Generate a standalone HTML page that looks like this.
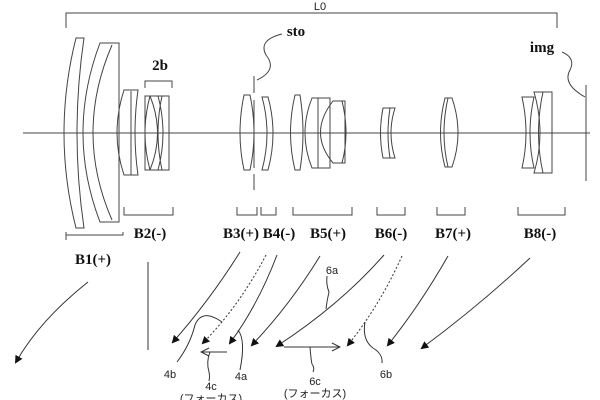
<!DOCTYPE html>
<html><head><meta charset="utf-8"><style>
html,body{margin:0;padding:0;background:#fff;width:600px;height:400px;overflow:hidden}
svg{display:block}
.b{font-family:"Liberation Serif",serif;font-weight:bold;font-size:15px;fill:#111}
.s{font-family:"Liberation Sans","Noto Sans CJK JP",sans-serif;font-size:11px;fill:#222}
</style></head><body>
<svg width="600" height="400" viewBox="0 0 600 400" xmlns="http://www.w3.org/2000/svg">
<defs><marker id="ah" markerWidth="8" markerHeight="8" refX="6" refY="4" orient="auto" markerUnits="userSpaceOnUse"><path d="M0,0 L8,4 L0,8 z" fill="#111"/></marker>
<marker id="oa" markerWidth="10" markerHeight="10" refX="9" refY="5" orient="auto" markerUnits="userSpaceOnUse"><path d="M1,1 L9,5 L1,9" fill="none" stroke="#333" stroke-width="1"/></marker></defs>
<g fill="none" stroke="#444" stroke-width="1">
<!-- L0 bracket -->
<path d="M66,28 V13 H557 V28"/>
<!-- axis -->
<line x1="23" y1="133" x2="590" y2="133"/>
<!-- B1 -->
<path d="M76,38 H84 Q70,133 84,228 H76 Q52,133 76,38 Z"/>
<path d="M100,43 H119 V222 H100 Q66,133 100,43 Z"/>
<path d="M112,45 Q74,133 112,220"/>
<!-- B2 -->
<path d="M124,90 H138 Q132,133 138,175 H124 Q110,133 124,90 Z"/>
<line x1="131" y1="91" x2="131" y2="175"/>
<rect x="145" y="96" width="24" height="74"/>
<path d="M150,96 Q140,133 150,170 M162,96 Q154,133 162,170 M158,96 Q168,133 158,170 M150,96 Q165,133 150,170"/>
<path d="M145,88 V81 H172 V88"/>
<!-- stop -->
<path d="M254,76 V93 M254,100 V168 M254,174 V190" stroke-dasharray="30,0"/>
<path d="M257,80 Q278,70 266,55 Q258,40 282,34"/>
<!-- B3 B4 -->
<path d="M244,95 H250 Q258,133 250,170 H244 Q236,133 244,95 Z"/>
<path d="M262,97 H268 Q278,133 268,170 H262 Q272,133 262,97 Z"/>
<!-- B5 -->
<path d="M295,95 H300 Q306,133 300,170 H295 Q286,133 295,95 Z"/>
<path d="M312,98 H330 V168 H312 Q298,133 312,98 Z"/>
<line x1="318" y1="98" x2="318" y2="168"/>
<path d="M333,101 H345 V163 H333 Q308,133 333,101 Z"/>
<path d="M342,101 Q350,133 342,163"/>
<!-- B6 -->
<path d="M383,108 H395 Q387,133 395,158 H383 Q378,133 383,108 Z"/>
<path d="M390,108 Q386,133 390,158"/>
<!-- B7 -->
<path d="M445,98 H452 Q464,133 452,167 H445 Q436,133 445,98 Z"/>
<path d="M448,98 Q440,133 448,167"/>
<!-- B8 -->
<path d="M522,97 H534 Q526,133 534,168 H522 Q530,133 522,97 Z"/>
<path d="M534,92 H552 V173 H534 Q546,133 534,92 Z"/>
<path d="M543,92 Q534,133 543,173"/>
<!-- img -->
<line x1="586" y1="85" x2="586" y2="181"/>
<path d="M562,52 Q576,58 570,70 Q562,84 585,97"/>
<!-- group brackets -->
<path d="M66,240 V232 M66,235 H123 V232"/>
<path d="M124,207 V215 H173 V207"/>
<path d="M237,207 V215 H257 V207"/>
<path d="M261,207 V215 H276 V207"/>
<path d="M293,207 V215 H352 V207"/>
<path d="M377,207 V215 H405 V207"/>
<path d="M437,207 V215 H465 V207"/>
<path d="M518,207 V215 H565 V207"/>
</g>
<text x="320" y="10" class="s" text-anchor="middle" font-size="10">L0</text>
<text x="160" y="70" class="b" text-anchor="middle">2b</text>
<text x="296" y="36" class="b" text-anchor="middle">sto</text>
<text x="542" y="52" class="b" text-anchor="middle">img</text>
<text x="150" y="238" class="b" text-anchor="middle">B2(-)</text>
<text x="241" y="238" class="b" text-anchor="middle">B3(+)</text>
<text x="279" y="238" class="b" text-anchor="middle">B4(-)</text>
<text x="328" y="238" class="b" text-anchor="middle">B5(+)</text>
<text x="391" y="238" class="b" text-anchor="middle">B6(-)</text>
<text x="453" y="238" class="b" text-anchor="middle">B7(+)</text>
<text x="540" y="238" class="b" text-anchor="middle">B8(-)</text>
<text x="93" y="264" class="b" text-anchor="middle">B1(+)</text>
<g fill="none" stroke="#333" stroke-width="1">
<path d="M88,282 Q40,320 16,362" marker-end="url(#ah)"/>
<line x1="148" y1="262" x2="148" y2="350"/>
<path d="M240,252 Q210,300 173,342" marker-end="url(#ah)"/>
<path d="M266,255 Q240,305 203,343" stroke-dasharray="2,2" marker-end="url(#ah)"/>
<path d="M277,255 Q258,305 230,343" marker-end="url(#ah)"/>
<path d="M320,256 Q290,305 252,345" marker-end="url(#ah)"/>
<path d="M384,255 Q340,305 277,346" marker-end="url(#ah)"/>
<path d="M402,256 Q380,305 348,345" stroke-dasharray="2,2" marker-end="url(#ah)"/>
<path d="M448,256 Q420,305 388,345" marker-end="url(#ah)"/>
<path d="M530,258 Q480,305 422,348" marker-end="url(#ah)"/>
<path d="M177,362 Q190,345 195,325 Q202,308 222,322"/>
<path d="M227,352 H201" marker-end="url(#oa)"/>
<path d="M210,352 Q206,362 209,372 Q210,376 209,381"/>
<path d="M238,330 Q246,340 240,370"/>
<path d="M327,276 Q326,285 329,292 Q327,300 326,309"/>
<path d="M284,347 H340" marker-end="url(#oa)"/>
<path d="M310,347 Q311,360 312,364 Q315,368 313,372"/>
<path d="M365,322 Q362,340 373,348 Q383,354 382,363"/>
</g>
<text x="170" y="378" class="s" text-anchor="middle">4b</text>
<text x="211" y="390" class="s" text-anchor="middle">4c</text>
<text x="211" y="402" class="s" text-anchor="middle">(フォーカス)</text>
<text x="241" y="380" class="s" text-anchor="middle">4a</text>
<text x="332" y="274" class="s" text-anchor="middle">6a</text>
<text x="315" y="385" class="s" text-anchor="middle">6c</text>
<text x="315" y="397" class="s" text-anchor="middle">(フォーカス)</text>
<text x="386" y="378" class="s" text-anchor="middle">6b</text>
</svg>
</body></html>
